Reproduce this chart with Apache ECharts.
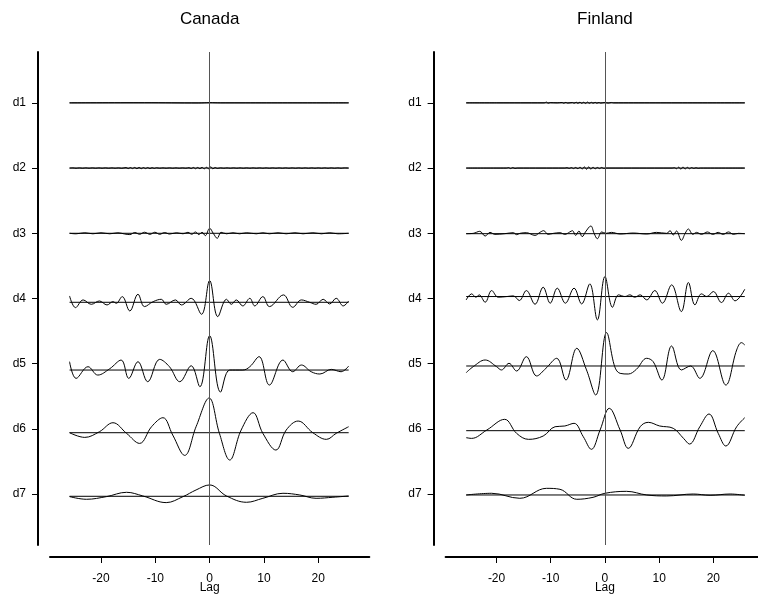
<!DOCTYPE html>
<html>
<head>
<meta charset="utf-8">
<script src="https://cdn.jsdelivr.net/npm/echarts@6/dist/echarts.min.js"></script>
<style>
  html, body { margin: 0; padding: 0; background: #fff; }
  #chart { width: 758px; height: 601px; }
</style>
</head>
<body>
<div id="chart"></div>
<script>
// Wavelet cross-correlation by scale (d1..d7) against lag, one panel per country.
const countries = ['Canada', 'Finland'];
const levels = ['d1', 'd2', 'd3', 'd4', 'd5', 'd6', 'd7'];
const levelPositions = [1, 2, 3, 4, 5, 6, 7];
const lagTicks = [-20, -10, 0, 10, 20];

// Lag span of each panel's curves
const canadaLagSpan = [-25.8, 25.6];
const finlandLagSpan = [-25.6, 25.8];

// Reference level of every scale row (row units)
const canadaBaselines = [1.0, 2.0, 3.0, 4.058, 5.097, 6.058, 7.033];
const finlandBaselines = [1.0, 2.0, 3.006, 3.97, 5.035, 6.027, 7.013];

// Curves: [lag, correlation in row units]
const canadaD1 = [[-25.8, 0], [-12, 0.002], [-2, -0.002], [0, 0.003], [2, 0], [25.6, 0]];
const canadaD2 = [[-25.8, 0], [-25.2, 0.003], [-24.6, -0.003], [-24.0, 0.003], [-23.4, -0.003], [-22.8, 0.003],
  [-22.2, -0.003], [-21.6, 0.003], [-21.0, -0.003], [-20.4, 0.003], [-19.8, -0.003], [-19.2, 0.003],
  [-18.6, -0.003], [-18.0, 0.003], [-17.4, -0.003], [-16.8, 0.003], [-16.2, -0.004],
  [-15.4, 0.008], [-15.0, -0.008], [-14.6, 0.008], [-14.2, -0.008],
  [-13.8, 0.01], [-13.4, -0.01], [-13.0, 0.01], [-12.6, -0.01], [-12.2, 0.008], [-11.8, -0.008],
  [-11.4, 0.008], [-11.0, -0.008], [-10.6, 0.006], [-10.2, -0.006], [-9.8, 0.005], [-9.2, -0.003],
  [-8.6, 0.003], [-8.0, -0.003], [-7.4, 0.003], [-6.8, -0.003], [-6.2, 0.003], [-5.6, -0.003], [-5.0, 0.003],
  [-4.4, -0.003],
  [-3.8, 0.006], [-3.4, -0.008], [-3.0, 0.01], [-2.6, -0.01], [-2.2, 0.01], [-1.8, -0.01], [-1.4, 0.012],
  [-1.0, -0.012], [-0.6, 0.012], [-0.2, -0.01], [0.2, 0.02], [0.6, -0.012], [1.0, 0.008], [1.4, -0.006],
  [2.0, 0.003], [2.6, -0.003], [3.2, 0.003], [3.8, -0.003], [4.4, 0.003], [5.0, -0.003], [5.6, 0.003],
  [6.2, -0.003], [6.8, 0.003], [7.4, -0.003], [8.0, 0.003], [8.6, -0.003], [9.2, 0.003], [9.8, -0.003],
  [10.4, 0.003], [11.0, -0.003], [11.6, 0.003], [12.2, -0.003], [12.8, 0.003], [13.4, -0.003], [14.0, 0.003],
  [14.6, -0.003], [15.2, 0.003], [15.8, -0.003], [16.4, 0.003], [17.0, -0.003], [17.6, 0.003], [18.2, -0.003],
  [18.8, 0.003], [19.4, -0.003], [20.0, 0.003], [20.6, -0.003], [21.2, 0.003], [21.8, -0.003], [22.4, 0.003],
  [23.0, -0.003], [23.6, 0.003], [24.2, -0.003], [24.8, 0.003], [25.6, 0]];
const canadaD3 = [[-25.8, 0], [-24.6, -0.008], [-23.0, 0.008], [-21.5, -0.008], [-20.0, 0.008], [-18.4, -0.008],
  [-16.9, 0.008], [-15.7, -0.010], [-14.7, -0.020], [-13.8, 0.012], [-12.9, -0.016], [-12.0, 0.016],
  [-11.0, -0.016], [-10.1, 0.016], [-9.2, -0.016], [-8.3, 0.012], [-7.4, -0.012], [-6.1, 0.008],
  [-4.9, -0.008], [-4.0, 0.015], [-3.3, -0.015], [-2.6, 0.020], [-2.0, -0.020], [-1.4, 0.015],
  [-0.8, -0.036], [0, 0.077], [0.7, -0.005], [1.4, -0.077], [2.1, 0.015], [3.1, -0.008], [4.3, 0.008],
  [5.5, -0.008], [6.8, 0.008], [8.6, -0.008], [9.8, 0.008], [11.0, -0.008], [12.6, 0.008], [14.1, -0.008],
  [15.7, 0.008], [17.2, -0.008], [19.0, 0.008], [20.6, -0.008], [22.1, 0.008], [23.6, -0.008], [25.6, 0]];
const canadaD4 = [[-25.8, 0.097], [-24.7, -0.082], [-23.3, 0.036], [-21.8, -0.031], [-20.3, 0.020], [-18.9, -0.041],
  [-17.8, 0.010], [-17.2, -0.015], [-16.1, 0.087], [-14.7, -0.133], [-13.2, 0.123], [-12.0, -0.066],
  [-10.4, 0.010], [-8.9, 0.046], [-8.0, -0.031], [-6.3, 0.036], [-5.2, -0.041], [-3.4, 0.061],
  [-1.5, -0.184], [0, 0.332], [1.5, -0.220], [3.1, 0.046], [4.0, -0.031], [4.9, 0.036], [6.1, -0.056],
  [7.4, 0.061], [8.3, -0.056], [9.8, 0.087], [11.0, -0.066], [13.6, 0.113], [15.3, -0.077], [16.9, 0.036],
  [18.4, 0], [19.6, -0.031], [20.9, 0.046], [22.1, -0.026], [23.3, 0.061], [24.6, -0.056], [25.6, 0.020]];
const canadaD5 = [[-25.8, 0.128], [-24.6, -0.128], [-22.4, 0.051], [-20.6, -0.077], [-18.4, 0.020], [-16.3, 0.153],
  [-14.9, -0.128], [-13.2, 0.128], [-11.4, -0.179], [-9.2, 0.164], [-7.4, 0.051], [-5.5, -0.179],
  [-3.4, 0.066], [-1.8, -0.256], [0, 0.527], [2.0, -0.338], [3.7, 0], [6.1, 0], [7.4, 0.051], [9.1, 0.205],
  [11.0, -0.230], [13.5, 0.153], [15.3, -0.026], [16.9, 0.077], [18.7, -0.026], [20.3, -0.061],
  [22.4, 0.010], [24.2, -0.026], [25.6, 0.061]];
const canadaD6 = [[-25.8, 0], [-23.0, -0.072], [-20.3, 0.015], [-17.8, 0.153], [-15.3, -0.010], [-12.9, -0.164],
  [-10.7, 0.092], [-8.6, 0.230], [-6.8, -0.036], [-4.6, -0.348], [-2.5, 0.092], [-0.1, 0.532],
  [1.8, -0.010], [3.7, -0.419], [5.8, 0.041], [8.0, 0.307], [9.8, -0.010], [12.2, -0.266], [14.1, 0.041],
  [16.3, 0.179], [19.0, 0], [21.5, -0.102], [23.3, -0.010], [25.6, 0.092]];
const canadaD7 = [[-25.8, -0.005], [-22.7, -0.046], [-19.0, -0.005], [-15.3, 0.061], [-12.3, 0.005], [-8.0, -0.097],
  [-4.9, -0.005], [-2.5, 0.097], [0, 0.174], [3.1, 0.005], [6.8, -0.092], [9.8, -0.031], [13.5, 0.046],
  [16.6, 0.020], [19.6, -0.031], [22.7, -0.015], [25.6, 0.005]];

const finlandD1 = [[-25.6, 0], [-20, 0], [-11.2, 0], [-10.8, 0.012], [-10.5, -0.006], [-10.1, 0.004], [-8.8, 0],
  [-7.9, 0.006], [-7.6, -0.006], [-7.2, 0.008], [-6.9, -0.004], [-6.0, 0.006], [-5.7, -0.006], [-5.3, 0.010],
  [-5.0, -0.008], [-4.6, 0.012], [-4.3, -0.008], [-3.9, 0.010], [-3.6, -0.010], [-3.2, 0.012], [-2.9, -0.008],
  [-2.5, 0.008], [-2.2, -0.006], [-1.8, 0.008], [-1.5, -0.006], [-1.1, 0.006], [-0.8, -0.004], [0, 0.006],
  [0.6, -0.004], [1.2, 0.006], [1.6, 0], [25.8, 0]];
const finlandD2 = [[-25.6, 0], [-18.2, 0], [-17.8, 0.008], [-17.4, -0.008], [-17.0, 0.008], [-16.6, -0.006],
  [-16.2, 0], [-7.4, 0], [-7.0, 0.006], [-6.6, -0.006], [-6.2, 0.008], [-5.8, -0.008], [-5.4, 0.010],
  [-5.0, -0.010], [-4.6, 0.014], [-4.2, -0.014], [-3.8, 0.018], [-3.4, -0.018], [-3.0, 0.018], [-2.6, -0.016],
  [-2.2, 0.014], [-1.8, -0.012], [-1.4, 0.010], [-1.0, -0.008], [-0.6, 0.010], [-0.2, -0.006], [0.2, 0],
  [12.4, 0], [12.8, 0.006], [13.2, -0.010], [13.6, 0.014], [14.0, -0.016], [14.4, 0.016], [14.8, -0.014],
  [15.2, 0.012], [15.6, -0.010], [16.0, 0.008], [16.4, -0.006], [16.8, 0.005], [17.2, -0.004], [17.6, 0],
  [25.8, 0]];
const finlandD3 = [[-25.6, 0], [-24.3, 0.005], [-23.1, 0.036], [-22.1, -0.036], [-21.2, 0.020], [-20.3, -0.010],
  [-18.5, 0], [-16.9, 0.015], [-16.3, -0.015], [-15.7, 0.005], [-14.5, 0.015], [-12.9, -0.026], [-12.0, 0.020],
  [-11.3, 0.046], [-10.5, -0.010], [-9.5, 0.005], [-8.3, 0.015], [-7.4, -0.010], [-6.5, 0.026], [-6.0, 0.046],
  [-5.4, -0.026], [-4.8, 0.041], [-4.2, -0.046], [-3.6, 0.026], [-2.6, 0.118], [-2.0, 0.005], [-1.4, -0.077],
  [-0.6, 0.026], [0.2, 0.005], [1.2, 0.020], [2.8, -0.005], [5.2, 0.010], [7.7, -0.005], [9.5, 0.020],
  [11.4, 0.005], [12.0, 0.046], [12.6, -0.020], [13.2, 0.041], [14.1, -0.102], [14.8, 0.005], [15.4, 0.072],
  [16.2, -0.010], [16.9, 0.020], [17.8, -0.010], [18.9, 0.026], [19.9, -0.010], [20.9, 0.020], [21.8, -0.010],
  [22.8, 0.026], [23.7, -0.010], [24.6, 0.005], [25.8, 0]];
const finlandD4 = [[-25.6, -0.051], [-24.6, 0.041], [-23.8, -0.010], [-23.2, 0.026], [-22.1, -0.087], [-20.9, 0.092],
  [-19.7, -0.010], [-18.1, 0], [-16.9, 0.010], [-15.8, -0.061], [-14.5, 0.092], [-12.9, -0.118], [-11.4, 0.143],
  [-10.1, -0.102], [-8.8, 0.128], [-7.3, -0.102], [-5.7, 0.128], [-4.3, -0.113], [-2.8, 0.194], [-1.4, -0.358],
  [0, 0.307], [1.4, -0.164], [2.5, 0.026], [3.7, 0], [4.6, 0.026], [5.5, -0.010], [6.5, 0.026], [7.7, -0.051],
  [9.2, 0.092], [10.6, -0.102], [12.3, 0.179], [14.1, -0.230], [15.4, 0.215], [16.6, -0.128], [17.8, 0.041],
  [18.8, 0], [20.0, 0.077], [21.5, -0.092], [22.8, 0.051], [24.0, -0.066], [25.8, 0.113]];
const finlandD5 = [[-25.6, -0.102], [-24.3, -0.010], [-22.1, 0.092], [-20.0, -0.010], [-19.1, -0.061], [-17.7, 0.041],
  [-16.3, -0.077], [-14.5, 0.143], [-12.6, -0.153], [-10.9, -0.036], [-8.9, 0.118], [-7.2, -0.215], [-5.2, 0.271],
  [-3.4, -0.061], [-1.7, -0.445], [0.3, 0.512], [1.8, -0.010], [2.8, -0.113], [4.3, -0.123], [5.8, -0.051],
  [7.7, 0.118], [8.9, 0.066], [10.5, -0.215], [12.3, 0.307], [14.1, -0.061], [15.8, 0], [17.5, -0.189],
  [19.9, 0.235], [22.3, -0.292], [24.3, 0.246], [25.2, 0.358], [25.8, 0.322]];
const finlandD6 = [[-25.6, -0.107], [-24.6, -0.118], [-21.8, 0.010], [-18.5, 0.174], [-16.3, -0.041], [-14.1, -0.133],
  [-11.4, -0.082], [-9.2, 0.061], [-7.4, 0.072], [-5.7, 0.113], [-4.0, -0.092], [-2.5, -0.286], [-0.9, 0.010],
  [0.8, 0.343], [2.8, 0.010], [4.3, -0.271], [6.5, 0.061], [8.0, 0.128], [10.1, 0.072], [12.6, 0.036],
  [14.5, -0.118], [15.6, -0.205], [17.5, 0.061], [19.2, 0.256], [20.9, -0.041], [22.3, -0.235], [24.3, 0.061],
  [25.8, 0.199]];
const finlandD7 = [[-25.6, 0], [-20.9, 0.026], [-15.7, -0.051], [-10.8, 0.102], [-8.3, 0.087], [-5.2, -0.066],
  [-2.2, -0.036], [0, 0.026], [4.0, 0.056], [7.7, 0], [11.4, -0.015], [16.3, 0.015], [19.4, -0.005],
  [23.1, 0.015], [25.8, -0.005]];

const canadaCurves = [canadaD1, canadaD2, canadaD3, canadaD4, canadaD5, canadaD6, canadaD7];
const finlandCurves = [finlandD1, finlandD2, finlandD3, finlandD4, finlandD5, finlandD6, finlandD7];

const FONT = '"Liberation Sans", Arial, Helvetica, sans-serif';
const INK = '#000';

const panelDefs = [
  { name: countries[0], curves: canadaCurves, baselines: canadaBaselines, span: canadaLagSpan, left: 50, width: 319.3 },
  { name: countries[1], curves: finlandCurves, baselines: finlandBaselines, span: finlandLagSpan, left: 445.6, width: 318.7 }
];

const grids = [], xAxes = [], yAxes = [], titles = [], series = [];

panelDefs.forEach((p, gi) => {
  grids.push({ left: p.left, top: 52, width: p.width, height: 493, containLabel: false, outerBoundsMode: 'none' });
  titles.push({
    text: p.name,
    left: p.left + p.width / 2,
    top: 11,
    padding: 0,
    textAlign: 'center',
    textStyle: { fontFamily: FONT, fontSize: 17, fontWeight: 'normal', color: INK }
  });
  xAxes.push({
    type: 'value', gridIndex: gi, min: -29.4, max: 29.4, position: 'bottom', offset: 12,
    name: 'Lag', nameLocation: 'middle', nameGap: 25, nameMoveOverlap: false,
    nameTextStyle: { fontFamily: FONT, fontSize: 12, color: INK },
    axisLine: { show: true, onZero: false, lineStyle: { color: INK, width: 2 } },
    axisTick: { show: true, length: 6, customValues: lagTicks, lineStyle: { color: INK, width: 1 } },
    axisLabel: { customValues: lagTicks, margin: 16, fontFamily: FONT, fontSize: 12, color: INK },
    splitLine: { show: false }
  });
  yAxes.push({
    type: 'value', gridIndex: gi, inverse: true, min: 0.22, max: 7.78, position: 'left', offset: 12,
    axisLine: { show: true, onZero: false, lineStyle: { color: INK, width: 2 } },
    axisTick: { show: true, length: 6, customValues: levelPositions, lineStyle: { color: INK, width: 1 } },
    axisLabel: {
      customValues: levelPositions, margin: 12, fontFamily: FONT, fontSize: 12, color: INK,
      formatter: v => levels[Math.round(v) - 1]
    },
    splitLine: { show: false }
  });

  // vertical reference at lag 0
  series.push({
    type: 'line', xAxisIndex: gi, yAxisIndex: gi, data: [], silent: true,
    markLine: {
      silent: true, symbol: ['none', 'none'], label: { show: false },
      lineStyle: { color: '#555', width: 1, type: 'solid' },
      data: [{ xAxis: 0 }]
    }
  });

  p.curves.forEach((curve, i) => {
    const base = p.baselines[i];
    series.push({
      type: 'line', xAxisIndex: gi, yAxisIndex: gi, silent: true,
      showSymbol: false, symbol: 'none',
      lineStyle: { color: INK, width: 1 },
      data: [[p.span[0], base], [p.span[1], base]]
    });
    series.push({
      type: 'line', xAxisIndex: gi, yAxisIndex: gi, silent: true,
      showSymbol: false, symbol: 'none', smooth: 0.38,
      lineStyle: { color: INK, width: 1 },
      data: curve.map(([lag, r]) => [lag, base - r])
    });
  });
});

const chart = echarts.init(document.getElementById('chart'), null, { renderer: 'canvas' });
chart.setOption({
  animation: false,
  backgroundColor: '#fff',
  title: titles,
  grid: grids,
  xAxis: xAxes,
  yAxis: yAxes,
  series: series
});
</script>
</body>
</html>
